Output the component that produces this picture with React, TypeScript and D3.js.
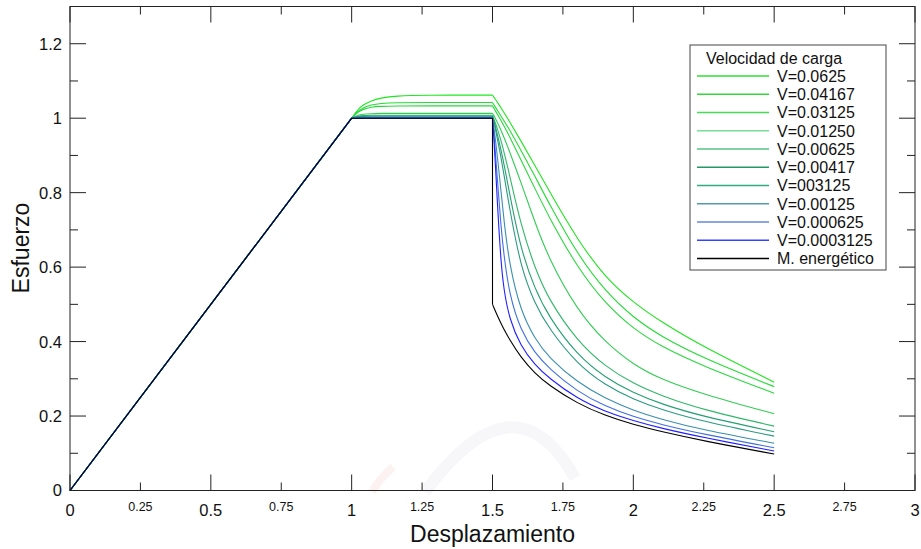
import React from "react";
import * as d3 from "d3";

// ---------- data ----------
const rampX = [0, 1];
const rampY = [0, 1];

const plateauX = [1, 1.02, 1.04, 1.07, 1.1, 1.16, 1.25, 1.5];
const decayX = [1.5, 1.505, 1.51, 1.52, 1.53, 1.54, 1.56, 1.6, 1.65, 1.7, 1.8, 1.9, 2.0, 2.1, 2.25, 2.5];

const seriesNames = [
  "V=0.0625",
  "V=0.04167",
  "V=0.03125",
  "V=0.01250",
  "V=0.00625",
  "V=0.00417",
  "V=003125",
  "V=0.00125",
  "V=0.000625",
  "V=0.0003125",
];
const seriesColors = [
  "#1ee61e",
  "#22dd33",
  "#2ad83e",
  "#33cc55",
  "#30b86a",
  "#23a070",
  "#2a9a80",
  "#3a8fb0",
  "#4070e0",
  "#2020ff",
];
const legendColors = [
  "#2ee02e",
  "#33d83a",
  "#44dd55",
  "#77dd99",
  "#55c488",
  "#229966",
  "#33aa80",
  "#5599b0",
  "#6688dd",
  "#3344ff",
];

const plateauY = [
  [1.0, 1.022, 1.036, 1.047, 1.054, 1.06, 1.062, 1.062],
  [1.0, 1.018, 1.028, 1.036, 1.04, 1.042, 1.042, 1.042],
  [1.0, 1.016, 1.024, 1.03, 1.032, 1.033, 1.033, 1.033],
  [1.0, 1.008, 1.011, 1.012, 1.013, 1.013, 1.013, 1.013],
  [1.0, 1.005, 1.007, 1.008, 1.008, 1.008, 1.008, 1.008],
  [1.0, 1.004, 1.005, 1.006, 1.006, 1.006, 1.006, 1.006],
  [1.0, 1.003, 1.004, 1.004, 1.004, 1.004, 1.004, 1.004],
  [1.0, 1.001, 1.002, 1.002, 1.002, 1.002, 1.002, 1.002],
  [1.0, 1.001, 1.001, 1.001, 1.001, 1.001, 1.001, 1.001],
  [1.0, 1.0, 1.0, 1.0, 1.0, 1.0, 1.0, 1.0],
];

const decayY = [
  [1.062, 1.0565, 1.051, 1.04, 1.028, 1.016, 0.992, 0.94, 0.874, 0.806, 0.675, 0.572, 0.505, 0.452, 0.385, 0.291],
  [1.042, 1.036, 1.03, 1.018, 1.006, 0.994, 0.97, 0.915, 0.845, 0.772, 0.636, 0.535, 0.464, 0.413, 0.355, 0.279],
  [1.033, 1.027, 1.02, 1.007, 0.994, 0.98, 0.952, 0.89, 0.812, 0.735, 0.6, 0.502, 0.434, 0.386, 0.333, 0.261],
  [1.013, 1.007, 1.0, 0.985, 0.968, 0.95, 0.912, 0.83, 0.722, 0.622, 0.485, 0.398, 0.338, 0.298, 0.258, 0.206],
  [1.008, 0.998, 0.988, 0.965, 0.94, 0.912, 0.85, 0.715, 0.598, 0.512, 0.402, 0.333, 0.287, 0.254, 0.216, 0.173],
  [1.006, 0.993, 0.978, 0.948, 0.915, 0.88, 0.8, 0.648, 0.542, 0.466, 0.364, 0.303, 0.262, 0.232, 0.198, 0.158],
  [1.004, 0.99, 0.972, 0.935, 0.895, 0.852, 0.76, 0.6, 0.502, 0.435, 0.34, 0.283, 0.245, 0.217, 0.185, 0.146],
  [1.002, 0.975, 0.945, 0.88, 0.805, 0.73, 0.605, 0.482, 0.408, 0.357, 0.291, 0.247, 0.215, 0.191, 0.162, 0.127],
  [1.001, 0.96, 0.91, 0.81, 0.71, 0.635, 0.525, 0.43, 0.37, 0.328, 0.266, 0.226, 0.198, 0.177, 0.151, 0.115],
  [1.0, 0.945, 0.88, 0.735, 0.615, 0.54, 0.46, 0.388, 0.338, 0.302, 0.247, 0.212, 0.187, 0.167, 0.142, 0.106],
];

const energyName = "M. energético";
const energyKnotX = [0, 1, 1.5, 1.5];
const energyKnotY = [0, 1, 1, 0.5];
const energyDecayY = [0.5, 0.491, 0.482, 0.465, 0.449, 0.434, 0.406, 0.358, 0.315, 0.283, 0.234, 0.201, 0.177, 0.158, 0.133, 0.098];

const xMajorTicks = [0, 0.5, 1, 1.5, 2, 2.5, 3];
const xMinorTicks = [0.25, 0.75, 1.25, 1.75, 2.25, 2.75];
const yMajorTicks = [0, 0.2, 0.4, 0.6, 0.8, 1, 1.2];
const yMinorTicks = [0.1, 0.3, 0.5, 0.7, 0.9, 1.1];

const xTitle = "Desplazamiento";
const yTitle = "Esfuerzo";
const legendTitle = "Velocidad de carga";

// ---------- layout ----------
const W = 921;
const H = 549;
const M = { left: 70, right: 915, top: 6.5, bottom: 490.5 };
const FONT = "'Liberation Sans', Arial, Helvetica, sans-serif";

export default function App() {
  const x = d3.scaleLinear().domain([0, 3]).range([M.left, M.right]);
  const y = d3.scaleLinear().domain([0, 1.3]).range([M.bottom, M.top]);

  const lin = d3
    .line<[number, number]>()
    .x((d) => x(d[0]))
    .y((d) => y(d[1]));
  const smooth = d3
    .line<[number, number]>()
    .x((d) => x(d[0]))
    .y((d) => y(d[1]))
    .curve(d3.curveBasis);

  const zip = (xs: number[], ys: number[]) => xs.map((v, i) => [v, ys[i]] as [number, number]);

  const seriesPaths = seriesNames.map((_, i) => {
    const a = lin(zip(rampX, rampY)) || "";
    const b = smooth(zip(plateauX, plateauY[i])) || "";
    const c = smooth(zip(decayX, decayY[i])) || "";
    return a + b + c;
  });
  const energyPath = (lin(zip(energyKnotX, energyKnotY)) || "") + (smooth(zip(decayX, energyDecayY)) || "");

  const major = 16;
  const minor = 8;
  const axisColor = "#222";

  // legend
  const lg = { x0: 690, y0: 45, x1: 886, y1: 270 };
  const rowY0 = 76;
  const rowStep = 18.25;
  const legendItems = [
    ...seriesNames.map((n, i) => ({ name: n, color: legendColors[i] })),
    { name: energyName, color: "#000" },
  ];

  return (
    <svg
      width={W}
      height={H}
      style={{ position: "absolute", left: 0, top: 0, background: "#fff" }}
      fontFamily={FONT}
    >
      <rect x={0} y={0} width={W} height={H} fill="#fff" />

      {/* faint watermark */}
      <g fill="none">
        <path d="M 425 492 Q 515 370 575 478" stroke="#f7f7fa" strokeWidth={12} />
        <path d="M 372 492 Q 380 478 393 467" stroke="#fdf2f2" strokeWidth={8} />
      </g>

      {/* series */}
      {seriesPaths.map((d, i) => (
        <path key={i} d={d} fill="none" stroke={seriesColors[i]} strokeWidth={1.1} />
      ))}
      <path d={energyPath} fill="none" stroke="#000" strokeWidth={1.1} />

      {/* frame */}
      <rect
        x={M.left}
        y={M.top}
        width={M.right - M.left}
        height={M.bottom - M.top}
        fill="none"
        stroke={axisColor}
        strokeWidth={1}
      />

      {/* x ticks bottom & top */}
      {xMajorTicks.map((t) => (
        <g key={"xM" + t}>
          <line x1={x(t)} x2={x(t)} y1={M.bottom} y2={M.bottom - major} stroke={axisColor} />
          <line x1={x(t)} x2={x(t)} y1={M.top} y2={M.top + major} stroke={axisColor} />
          <text x={x(t)} y={516} fontSize={16.5} textAnchor="middle" fill="#111">
            {String(t)}
          </text>
        </g>
      ))}
      {xMinorTicks.map((t) => (
        <g key={"xm" + t}>
          <line x1={x(t)} x2={x(t)} y1={M.bottom} y2={M.bottom - minor} stroke={axisColor} />
          <line x1={x(t)} x2={x(t)} y1={M.top} y2={M.top + minor} stroke={axisColor} />
          <text x={x(t)} y={511} fontSize={12.5} textAnchor="middle" fill="#111">
            {String(t)}
          </text>
        </g>
      ))}

      {/* y ticks left & right */}
      {yMajorTicks.map((t) => (
        <g key={"yM" + t}>
          <line x1={M.left} x2={M.left + major} y1={y(t)} y2={y(t)} stroke={axisColor} />
          <line x1={M.right} x2={M.right - major} y1={y(t)} y2={y(t)} stroke={axisColor} />
          <text x={62} y={y(t)} dy="0.36em" fontSize={16.5} textAnchor="end" fill="#111">
            {String(t)}
          </text>
        </g>
      ))}
      {yMinorTicks.map((t) => (
        <g key={"ym" + t}>
          <line x1={M.left} x2={M.left + minor} y1={y(t)} y2={y(t)} stroke={axisColor} />
          <line x1={M.right} x2={M.right - minor} y1={y(t)} y2={y(t)} stroke={axisColor} />
        </g>
      ))}

      {/* axis titles */}
      <text x={(M.left + M.right) / 2} y={542} fontSize={23} textAnchor="middle" fill="#111">
        {xTitle}
      </text>
      <text
        transform={`translate(29, 248) rotate(-90)`}
        fontSize={23}
        textAnchor="middle"
        fill="#111"
      >
        {yTitle}
      </text>

      {/* legend */}
      <rect
        x={lg.x0}
        y={lg.y0}
        width={lg.x1 - lg.x0}
        height={lg.y1 - lg.y0}
        fill="#fff"
        stroke="#444"
        strokeWidth={1}
      />
      <text x={774} y={58.5} dy="0.36em" fontSize={16} textAnchor="middle" fill="#111">
        {legendTitle}
      </text>
      {legendItems.map((it, i) => {
        const ry = rowY0 + i * rowStep;
        return (
          <g key={"lg" + i}>
            <line x1={697} x2={769} y1={ry} y2={ry} stroke={it.color} strokeWidth={1.3} />
            <text x={777} y={ry} dy="0.36em" fontSize={16} fill="#111">
              {it.name}
            </text>
          </g>
        );
      })}
    </svg>
  );
}
